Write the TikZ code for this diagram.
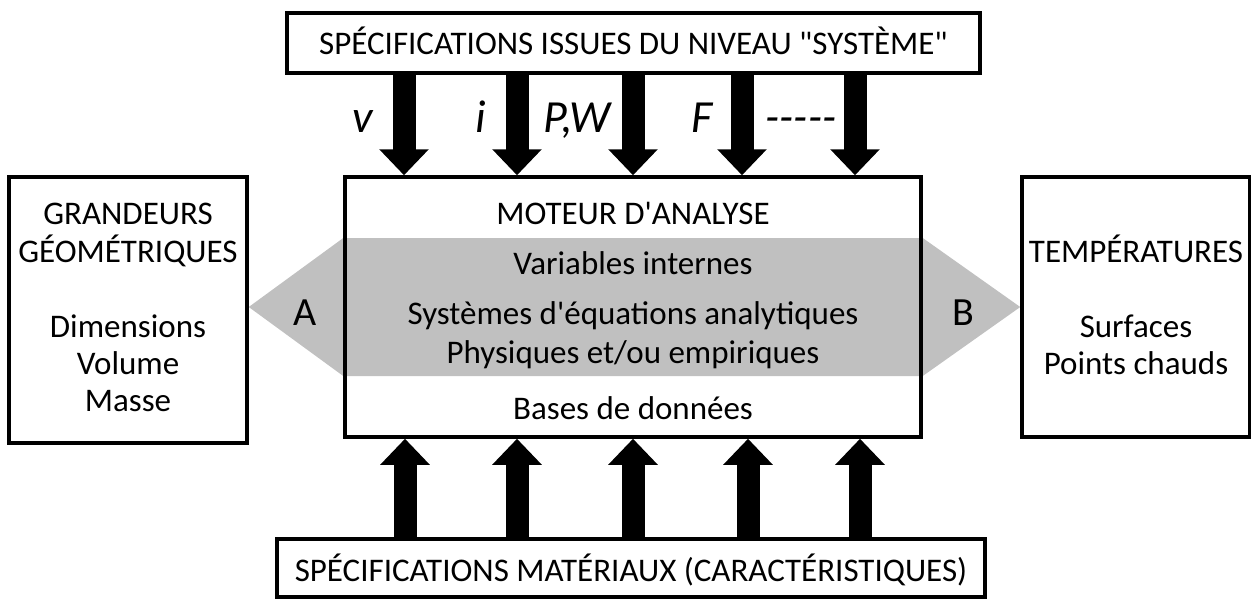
\documentclass[tikz,border=0pt]{standalone}
\usepackage{fontspec}
\setmainfont{Carlito}[Ligatures=TeXOff]
\usetikzlibrary{arrows.meta,backgrounds}
\definecolor{bandgray}{HTML}{C0C0C0}
\begin{document}
\begin{tikzpicture}[x=1pt,y=-1pt,
  box/.style={draw, line width=3.5pt, inner sep=0pt, fill=none},
  txt/.style={font=\fontsize{33}{40}\selectfont, inner sep=0pt, anchor=base},
  lbl/.style={font=\fontsize{46}{55}\selectfont\itshape, inner sep=0pt, anchor=base},
  ab/.style={font=\fontsize{40}{48}\selectfont, inner sep=0pt, anchor=base},
  bigarrow/.style={line width=23pt, -{Triangle[length=26pt,width=48pt]}}]
\useasboundingbox (0,0) rectangle (1251,598);
% boxes
\node[box, minimum width=693pt, minimum height=60pt] (top) at (633.5,43) {};
\node[box, minimum width=576pt, minimum height=260pt] (mid) at (633,307) {};
\node[box, minimum width=238pt, minimum height=266pt] (left) at (128,310) {};
\node[box, minimum width=228pt, minimum height=260pt] (right) at (1136,307) {};
\node[box, minimum width=708pt, minimum height=58pt] (bot) at (631,568) {};
% grey band
\begin{scope}[on background layer]
\coordinate (tipA) at (left.east |- 0,307);
\coordinate (tipB) at (right.west |- 0,307);
\coordinate (bandT) at (0,238);
\coordinate (bandB) at (0,376);
\fill[bandgray] (tipA) -- (mid.west |- bandT) -- (mid.east |- bandT) -- (tipB)
  -- (mid.east |- bandB) -- (mid.west |- bandB) -- cycle;
\end{scope}
% texts
\node[txt] (ttop) at (633.5,54) {SPÉCIFICATIONS ISSUES DU NIVEAU "SYSTÈME"};
\node[txt] (m1) at (633,224) {MOTEUR D'ANALYSE};
\node[txt] (m2) at (633,274) {Variables internes};
\node[txt] (m3) at (633,324) {Systèmes d'équations analytiques};
\node[txt] (m4) at (633,363) {Physiques et/ou empiriques};
\node[txt] (m5) at (633,419) {Bases de données};
\node[txt] (l1) at (128,224) {GRANDEURS};
\node[txt] (l2) at (128,262) {GÉOMÉTRIQUES};
\node[txt] (l3) at (128,337) {Dimensions};
\node[txt] (l4) at (128,374) {Volume};
\node[txt] (l5) at (128,411) {Masse};
\node[txt] (r1) at (1136,262) {TEMPÉRATURES};
\node[txt] (r2) at (1136,337) {Surfaces};
\node[txt] (r3) at (1136,374) {Points chauds};
\node[txt] (tbot) at (631,581) {SPÉCIFICATIONS MATÉRIAUX (CARACTÉRISTIQUES)};
\node[ab] (A) at (305,325) {A};
\node[ab] (B) at (963,325) {B};
% arrow labels
\node[lbl] (lv) at (363,132) {v};
\node[lbl] (li) at (481,132) {i};
\node[lbl] (lpw) at (577,132) {P,W};
\node[lbl] (lf) at (702,132) {F};
\node[lbl] (ld) at (801,132) {-----};
% arrows
\foreach \i/\x in {1/404,2/517,3/633,4/742,5/855}{
  \coordinate (ct\i) at (\x,0);
  \draw[bigarrow] (top.south -| ct\i) -- (mid.north -| ct\i);
}
\foreach \i/\x in {1/405,2/517,3/633,4/748,5/860}{
  \coordinate (cb\i) at (\x,0);
  \draw[bigarrow] (bot.north -| cb\i) -- (mid.south -| cb\i);
}
\end{tikzpicture}
\end{document}
